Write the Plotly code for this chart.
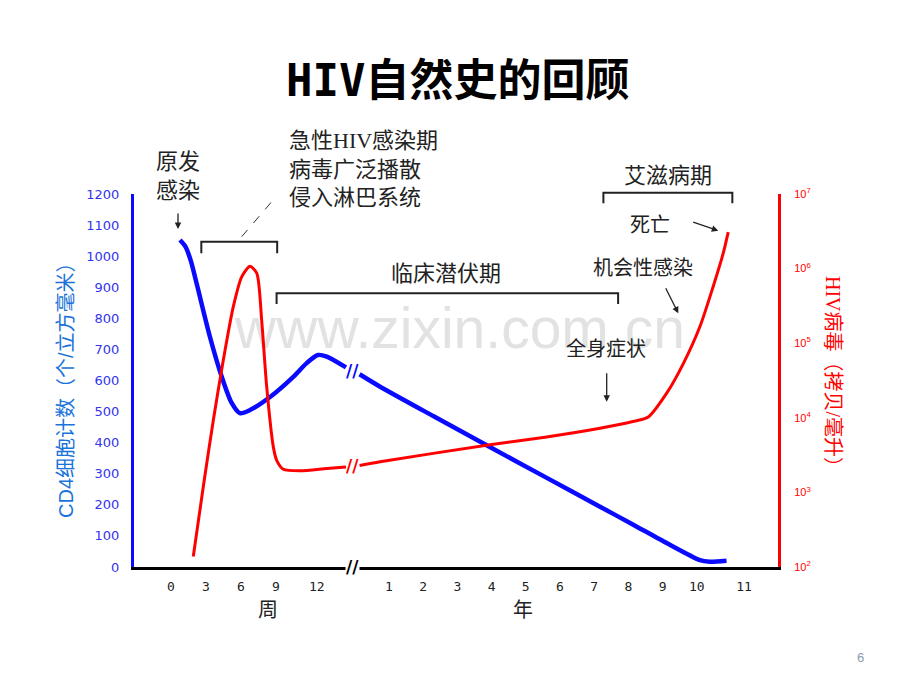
import plotly.graph_objects as go

# ---------------- data ----------------
WEEK_TICKS = [0, 3, 6, 9, 12]
WEEK_TICK_AT = [0, 3, 6, 9, 12.5]
YEAR_TICKS = [1, 2, 3, 4, 5, 6, 7, 8, 9, 10, 11]
YEAR_TICK_AT = [1, 2, 3, 4, 5, 6, 7, 8, 9, 10, 11.38]

CD4_WEEKS = [0.77, 1.25, 1.7, 2.23, 3.34, 4.35, 5.2, 5.91, 6.77, 8.49, 10.46, 11.63, 12.6, 13.35, 15.0]
CD4_WEEK_VALUES = [1052, 1030, 985, 907, 740, 612, 528, 495, 505, 547, 611, 656, 682, 677, 642]
CD4_YEARS = [0.14, 0.74, 2.32, 3.95, 5.56, 7.17, 8.13, 9.12, 10.09, 10.38, 10.87]
CD4_YEAR_VALUES = [620, 580, 484, 386, 290, 194, 137, 77, 22, 17, 20]

VL_WEEKS = [1.91, 2.77, 3.63, 4.48, 5.34, 6.06, 6.77, 7.35, 7.77, 8.2, 8.77, 9.06, 9.63, 11.06, 13.35, 15.0]
VL_WEEK_LOG10 = [2.14, 3.08, 3.97, 4.77, 5.49, 5.89, 6.03, 5.94, 5.31, 4.42, 3.61, 3.43, 3.31, 3.29, 3.32, 3.34]
VL_YEARS = [0.14, 0.74, 3.95, 5.56, 7.17, 8.13, 8.58, 9.12, 9.61, 10.09, 10.48, 10.77, 10.92]
VL_YEAR_LOG10 = [3.36, 3.41, 3.64, 3.74, 3.86, 3.95, 4.01, 4.33, 4.73, 5.22, 5.76, 6.2, 6.49]

LEFT_TICKS = list(range(0, 1201, 100))
RIGHT_EXPONENTS = [2, 3, 4, 5, 6, 7]

# phase brackets: (start unit, start, end unit, end)
ACUTE = ("w", 2.6, "w", 9.1)
LATENT = ("w", 9.05, "y", 7.7)
AIDS = ("y", 7.27, "y", 11.04)

# ---------------- composite x scale (weeks | break | years) ----------------
def wpos(w):
    return w / 3.0

def ypos(y):
    return 5.251 + 0.9771 * y

def pos(unit, v):
    return wpos(v) if unit == "w" else ypos(v)

W, H = 920, 690
L, R, T, B = 134, 142, 194, 123
PW, PH = W - L - R, H - T - B

def px(x):
    return (x - L) / PW

def py(y):
    return (H - B - y) / PH

X_RANGE = [(L - 171) / 35.0, (W - R - 171) / 35.0]

BLUE = "#0a0aff"
RED = "#ff0000"
INK = "#222222"
CJK = "Liberation Serif, Noto Sans CJK SC"

fig = go.Figure()

fig.add_trace(go.Scatter(x=[wpos(v) for v in CD4_WEEKS], y=CD4_WEEK_VALUES, mode="lines",
                         line=dict(color=BLUE, width=4.5, shape="spline", smoothing=0.8),
                         hoverinfo="skip", showlegend=False))
fig.add_trace(go.Scatter(x=[ypos(v) for v in CD4_YEARS], y=CD4_YEAR_VALUES, mode="lines",
                         line=dict(color=BLUE, width=4.5, shape="spline", smoothing=0.6),
                         hoverinfo="skip", showlegend=False))
fig.add_trace(go.Scatter(x=[wpos(v) for v in VL_WEEKS], y=[10 ** v for v in VL_WEEK_LOG10], mode="lines",
                         yaxis="y2",
                         line=dict(color=RED, width=3, shape="spline", smoothing=0.7),
                         hoverinfo="skip", showlegend=False))
fig.add_trace(go.Scatter(x=[ypos(v) for v in VL_YEARS], y=[10 ** v for v in VL_YEAR_LOG10], mode="lines",
                         yaxis="y2",
                         line=dict(color=RED, width=3, shape="spline", smoothing=0.7),
                         hoverinfo="skip", showlegend=False))

tickvals = [wpos(v) for v in WEEK_TICK_AT] + [ypos(v) for v in YEAR_TICK_AT]
ticktext = [str(v) for v in WEEK_TICKS] + [str(v) for v in YEAR_TICKS]

break_x = (wpos(CD4_WEEKS[-1]) + ypos(CD4_YEARS[0])) / 2

fig.update_layout(
    width=W, height=H,
    margin=dict(l=L, r=R, t=T, b=B, pad=0),
    paper_bgcolor="white", plot_bgcolor="white",
    showlegend=False,
    xaxis=dict(range=X_RANGE, tickvals=tickvals, ticktext=ticktext,
               showline=True, linecolor="black", linewidth=3, ticks="",
               showgrid=False, zeroline=False, ticklabelstandoff=5,
               tickfont=dict(family="DejaVu Sans Mono", size=13, color=INK)),
    yaxis=dict(range=[0, 1200], tickvals=LEFT_TICKS, ticktext=[str(v) for v in LEFT_TICKS],
               showline=True, linecolor=BLUE, linewidth=3, ticks="",
               showgrid=False, zeroline=False, ticklabelstandoff=9,
               tickfont=dict(family="DejaVu Sans", size=13, color="#3333ee")),
    yaxis2=dict(type="log", range=[2, 7], overlaying="y", side="right",
                tickvals=[10 ** e for e in RIGHT_EXPONENTS],
                ticktext=["10<sup>%d</sup>" % e for e in RIGHT_EXPONENTS],
                showline=True, linecolor=RED, linewidth=3, ticks="",
                showgrid=False, zeroline=False, ticklabelstandoff=11,
                tickfont=dict(family="Liberation Sans", size=11, color=RED)),
)

ann = []

def text(t, x, y, size=22, color=INK, family=CJK, xanchor="center", angle=0, align="center"):
    ann.append(dict(text=t, x=px(x), y=py(y), xref="paper", yref="paper", showarrow=False,
                    xanchor=xanchor, yanchor="middle", align=align, textangle=angle,
                    font=dict(size=size, color=color, family=family)))

def arrow(tail, tip):
    ann.append(dict(text="", x=px(tip[0]), y=py(tip[1]), xref="paper", yref="paper",
                    ax=tail[0] - tip[0], ay=tail[1] - tip[1], axref="pixel", ayref="pixel",
                    showarrow=True, arrowhead=2, arrowsize=1, arrowwidth=1.3, arrowcolor=INK))

# title
text("<b>HIV自然史的回顾</b>", 458, 80, size=44, color="black",
     family="DejaVu Sans Mono, Noto Sans CJK SC")
# axis titles
text("CD4细胞计数（个/立方毫米）", 66, 385, size=20, color="#1a73d9",
     family="Liberation Sans, Noto Sans CJK SC", angle=-90)
text("HIV病毒（拷贝/毫升）", 833, 376, size=20, color=RED, family=CJK, angle=90)
# unit labels
text("周", 268, 610, size=20)
text("年", 523, 610, size=20)
# phase labels
text("原发<br>感染", 178, 176, size=22)
text("急性HIV感染期<br>病毒广泛播散<br>侵入淋巴系统", 287, 169, size=22, xanchor="left", align="left")
text("临床潜伏期", 446, 273, size=22)
text("艾滋病期", 668, 175, size=22)
text("死亡", 650, 225, size=20)
text("机会性感染", 643, 268, size=20)
text("全身症状", 606, 349, size=20)
# page number
text("6", 860, 657, size=13, color="#8c9aab", family="Liberation Sans")

arrow((178, 212), (178, 229))
arrow((691.7, 221.7), (718.3, 230.7))
arrow((665, 286.7), (678.3, 313.3))
arrow((606.7, 371.7), (606.7, 401.7))

# break marks on curves and axis
ann.append(dict(text="<b>//</b>", x=break_x, y=(CD4_WEEK_VALUES[-1] + CD4_YEAR_VALUES[0]) / 2,
                xref="x", yref="y", showarrow=False, yanchor="middle",
                font=dict(size=17, color=BLUE, family="DejaVu Sans")))
ann.append(dict(text="<b>//</b>", x=break_x, y=(VL_WEEK_LOG10[-1] + VL_YEAR_LOG10[0]) / 2,
                xref="x", yref="y2", showarrow=False, yanchor="middle",
                font=dict(size=17, color=RED, family="DejaVu Sans")))
ann.append(dict(text="<b>//</b>", x=break_x, y=0, xref="x", yref="paper", showarrow=False,
                yanchor="middle", xanchor="center",
                bgcolor="white", borderpad=0, font=dict(size=17, color="black", family="DejaVu Sans")))

fig.update_layout(annotations=ann)

shapes = []

def bracket(span, ytop, ybot):
    x0 = pos(span[0], span[1])
    x1 = pos(span[2], span[3])
    shapes.append(dict(type="path", xref="x", yref="paper",
                       path="M %f,%f L %f,%f L %f,%f L %f,%f" % (x0, py(ybot), x0, py(ytop), x1, py(ytop), x1, py(ybot)),
                       line=dict(color=INK, width=2)))

bracket(ACUTE, 241.7, 253.3)
bracket(LATENT, 293.3, 304)
bracket(AIDS, 192.7, 203.3)

shapes.append(dict(type="line", xref="paper", yref="paper", x0=px(241.7), y0=py(236.7),
                   x1=px(271.7), y1=py(201.7), line=dict(color="#333333", width=1, dash="dash")))

# faint watermark, behind the data
shapes.append(dict(type="rect", xref="paper", yref="paper", x0=px(200), x1=px(720),
                   y0=py(350), y1=py(296), line=dict(width=0), fillcolor="rgba(0,0,0,0)",
                   layer="below",
                   label=dict(text="www.zixin.com.cn", textposition="middle center",
                              font=dict(size=57, color="#e2e2e2", family="Liberation Sans"))))

fig.update_layout(shapes=shapes)

fig.write_html("out.html")
